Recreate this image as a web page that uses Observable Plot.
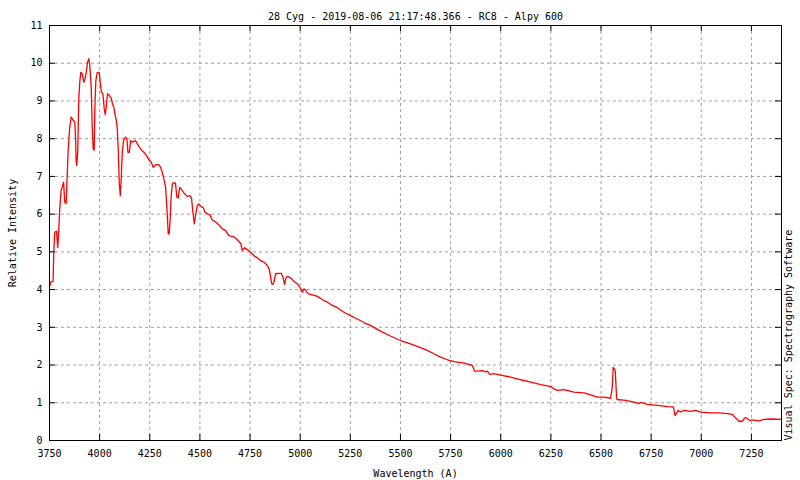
<!DOCTYPE html>
<html>
<head>
<meta charset="utf-8">
<script src="https://cdn.jsdelivr.net/npm/d3@7"></script>
<script src="https://cdn.jsdelivr.net/npm/@observablehq/plot@0.6"></script>
<style>
  html, body { margin: 0; padding: 0; background: #fff; }
  #chart svg { display: block; }
</style>
</head>
<body>
<div id="chart"></div>
<script>
// 28 Cyg spectrum
const TITLE = "28 Cyg - 2019-08-06 21:17:48.366 - RC8 - Alpy 600";
const CREDIT = "Visual Spec: Spectrography Software";

const wavelength = [
  3752, 3755, 3768, 3771, 3776, 3785, 3791, 3796, 3801, 3808, 3816, 3820, 3826, 3833, 3838, 3843,
  3850, 3858, 3868, 3876, 3880, 3883, 3886, 3891, 3896, 3901, 3906, 3913, 3921, 3926, 3933, 3940,
  3946, 3951, 3958, 3963, 3968, 3973, 3976, 3981, 3988, 3998, 4004, 4009, 4016, 4023, 4028, 4033,
  4039, 4049, 4059, 4064, 4071, 4076, 4083, 4088, 4093, 4098, 4103, 4108, 4113, 4119, 4129, 4136,
  4141, 4148, 4155, 4163, 4170, 4179, 4190, 4204, 4220, 4234, 4245, 4257, 4267, 4279, 4295, 4304,
  4312, 4320, 4329, 4337, 4342, 4347, 4352, 4357, 4363, 4378, 4385, 4392, 4399, 4406, 4420, 4437,
  4450, 4458, 4465, 4472, 4478, 4487, 4495, 4507, 4517, 4525, 4537, 4550, 4561, 4578, 4594, 4611,
  4628, 4644, 4669, 4686, 4703, 4711, 4723, 4736, 4753, 4769, 4786, 4803, 4819, 4833, 4845, 4853,
  4858, 4864, 4871, 4878, 4894, 4906, 4914, 4922, 4929, 4936, 4953, 4969, 4986, 4999, 5011, 5019,
  5028, 5039, 5061, 5086, 5111, 5135, 5160, 5185, 5218, 5251, 5285, 5320, 5350, 5400, 5450, 5500,
  5550, 5600, 5634, 5667, 5700, 5734, 5767, 5817, 5858, 5870, 5883, 5908, 5925, 5933, 5946, 5966,
  6000, 6050, 6100, 6150, 6200, 6250, 6265, 6282, 6315, 6365, 6415, 6448, 6482, 6515, 6548, 6556,
  6561, 6571, 6578, 6585, 6615, 6665, 6690, 6700, 6731, 6781, 6831, 6861, 6869, 6876, 6884, 6897,
  6914, 6947, 6972, 6997, 7047, 7088, 7130, 7155, 7171, 7188, 7205, 7216, 7226, 7238, 7263, 7288,
  7313, 7346, 7398
];
const intensity = [
  4.10, 4.20, 4.22, 4.95, 5.52, 5.55, 5.12, 5.55, 6.14, 6.63, 6.76, 6.85, 6.32, 6.28, 6.98, 7.69,
  8.26, 8.57, 8.49, 8.45, 8.00, 7.38, 7.29, 7.69, 9.06, 9.50, 9.76, 9.73, 9.50, 9.55, 9.76, 10.03,
  10.12, 9.94, 9.36, 8.30, 7.73, 7.70, 8.79, 9.54, 9.76, 9.75, 9.45, 9.23, 9.20, 8.79, 8.64, 8.84,
  9.19, 9.14, 9.06, 8.92, 8.84, 8.66, 8.49, 8.26, 7.69, 6.80, 6.49, 6.98, 7.64, 7.95, 8.04, 8.00,
  7.64, 7.64, 7.95, 7.91, 7.93, 7.95, 7.84, 7.73, 7.64, 7.55, 7.44, 7.38, 7.24, 7.31, 7.31, 7.24,
  7.11, 6.94, 6.71, 6.01, 5.48, 5.48, 5.92, 6.49, 6.82, 6.83, 6.45, 6.43, 6.71, 6.67, 6.56, 6.47,
  6.49, 6.43, 6.05, 5.74, 5.96, 6.23, 6.27, 6.20, 6.17, 6.05, 6.01, 5.98, 5.85, 5.79, 5.72, 5.61,
  5.57, 5.43, 5.40, 5.32, 5.23, 5.04, 5.11, 5.06, 4.99, 4.90, 4.84, 4.77, 4.73, 4.66, 4.55, 4.33,
  4.15, 4.14, 4.24, 4.42, 4.43, 4.43, 4.33, 4.14, 4.31, 4.35, 4.31, 4.22, 4.15, 4.06, 3.93, 4.02,
  3.98, 3.89, 3.86, 3.82, 3.73, 3.67, 3.58, 3.52, 3.40, 3.31, 3.22, 3.12, 3.05, 2.90, 2.77, 2.65,
  2.56, 2.46, 2.39, 2.30, 2.21, 2.14, 2.09, 2.05, 1.99, 1.84, 1.84, 1.85, 1.82, 1.84, 1.75, 1.77,
  1.73, 1.68, 1.61, 1.55, 1.48, 1.43, 1.37, 1.33, 1.35, 1.28, 1.26, 1.21, 1.15, 1.15, 1.12, 1.41,
  1.94, 1.86, 1.10, 1.08, 1.07, 1.02, 0.98, 1.01, 0.96, 0.93, 0.90, 0.89, 0.66, 0.72, 0.79, 0.76,
  0.80, 0.77, 0.80, 0.75, 0.73, 0.73, 0.71, 0.69, 0.60, 0.51, 0.51, 0.60, 0.60, 0.54, 0.54, 0.52,
  0.56, 0.57, 0.56
];

const xTicks = [3750, 4000, 4250, 4500, 4750, 5000, 5250, 5500, 5750, 6000, 6250, 6500, 6750, 7000, 7250];
const yTicks = [0, 1, 2, 3, 4, 5, 6, 7, 8, 9, 10, 11];

const spectrum = wavelength.map((w, i) => ({ wavelength: w, intensity: intensity[i] }));

const W = 800, H = 480;
const M = { top: 25, right: 19, bottom: 40, left: 49 };
const innerW = W - M.left - M.right;
const innerH = H - M.top - M.bottom;
const TICK = 6;
const grid = { stroke: "#a0a0a0", strokeOpacity: 1, strokeDasharray: "3,3" };

const plot = Plot.plot({
  width: W,
  height: H,
  marginTop: M.top,
  marginRight: M.right,
  marginBottom: M.bottom,
  marginLeft: M.left,
  style: { fontFamily: "DejaVu Sans Mono", fontSize: "10px", color: "#000", background: "#fff" },
  x: { domain: [3750, 7400] },
  y: { domain: [0, 11] },
  marks: [
    Plot.gridX(xTicks.slice(1), grid),
    Plot.gridY(yTicks.slice(1, -1), grid),
    Plot.line(spectrum, { x: "wavelength", y: "intensity", stroke: "#ff0000", strokeWidth: 1.3 }),
    // inward tick marks on all four sides, gnuplot style
    Plot.ruleX(xTicks, { insetTop: innerH - TICK, stroke: "#000" }),
    Plot.ruleX(xTicks, { insetBottom: innerH - TICK, stroke: "#000" }),
    Plot.ruleY(yTicks, { insetRight: innerW - TICK, stroke: "#000" }),
    Plot.ruleY(yTicks, { insetLeft: innerW - TICK, stroke: "#000" }),
    Plot.frame({ stroke: "#000" }),
    Plot.axisX(xTicks, {
      tickSize: 0, tickPadding: 9, tickFormat: "d",
      label: "Wavelength (A)", labelAnchor: "center", labelArrow: "none", labelOffset: 36
    }),
    Plot.axisY(yTicks, {
      tickSize: 0, tickPadding: 7, tickFormat: "d",
      label: "Relative Intensity", labelAnchor: "center", labelArrow: "none", labelOffset: 41
    }),
    Plot.text([TITLE], { frameAnchor: "top", dy: -13, fill: "#000" }),
    Plot.text([CREDIT], { frameAnchor: "bottom-right", rotate: -90, textAnchor: "start", dx: 10, fill: "#000" })
  ]
});

document.getElementById("chart").appendChild(plot);
</script>
</body>
</html>
